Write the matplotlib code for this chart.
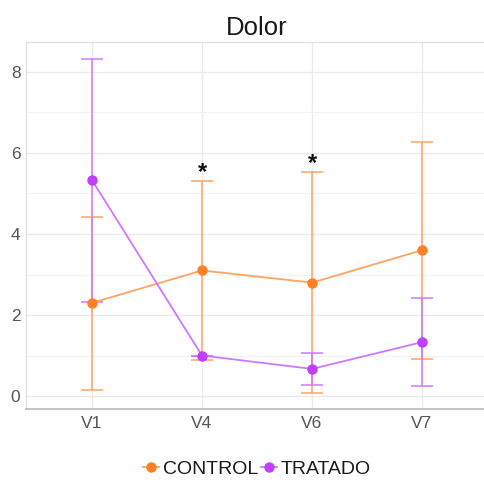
import matplotlib
matplotlib.use("Agg")
import matplotlib.pyplot as plt
from matplotlib.ticker import MultipleLocator

plt.rcParams['font.family'] = ['Liberation Sans', 'DejaVu Sans']

visits = ["V1", "V4", "V6", "V7"]

control_mean = [2.30, 3.10, 2.80, 3.60]
control_low = [0.16, 0.90, 0.08, 0.92]
control_high = [4.43, 5.30, 5.52, 6.28]

tratado_mean = [5.33, 1.00, 0.67, 1.33]
tratado_low = [2.33, 1.00, 0.27, 0.24]
tratado_high = [8.33, 1.00, 1.06, 2.42]

star_visits = ["V4", "V6"]
star_heights = [5.30, 5.52]

series = [
    ("CONTROL", control_mean, control_low, control_high, "#FF7F24", "#FFA463"),
    ("TRATADO", tratado_mean, tratado_low, tratado_high, "#BF3EFF", "#CF78FF"),
]

fig = plt.figure(figsize=(4.84, 4.82), dpi=100)
W, H = 484, 482
left, right, top, bottom = 26, 488, 42, 409
ax = fig.add_axes([left / W, (H - bottom) / H, (right - left) / W, (bottom - top) / H])

xs = list(range(len(visits)))
for name, mean, low, high, c_pt, c_ln in series:
    yerr = [[m - l for m, l in zip(mean, low)], [h - m for m, h in zip(mean, high)]]
    ax.errorbar(xs, mean, yerr=yerr, fmt="none", ecolor=c_ln, elinewidth=1.1,
                capsize=7.8, capthick=1.1, zorder=2)
    ax.plot(xs, mean, color=c_ln, lw=1.3, zorder=3)
    ax.plot(xs, mean, ls="none", marker="o", ms=6.5, color=c_pt, zorder=4)
    ax.plot([], [], color=c_ln, lw=1.3, marker="o", ms=6.5, mfc=c_pt, mec=c_pt,
            label=name)

for v, h in zip(star_visits, star_heights):
    ax.text(visits.index(v), h - 0.06, "*", ha="center", va="bottom",
            fontsize=17, fontweight="bold", color="#111111")

ax.set_xlim(-0.6, len(visits) - 0.4)
ax.set_ylim(-0.32, 8.74)
ax.set_xticks(xs)
ax.set_xticklabels(visits)
ax.yaxis.set_major_locator(MultipleLocator(2))
ax.yaxis.set_minor_locator(MultipleLocator(1))

ax.set_facecolor("white")
ax.grid(True, which="major", color="#EBEBEB", lw=1.0)
ax.grid(True, which="minor", axis="y", color="#F3F3F3", lw=0.8)
ax.set_axisbelow(True)
for s in ["top", "left", "right"]:
    ax.spines[s].set_color("#E3E3E3")
    ax.spines[s].set_linewidth(1.0)
ax.spines["bottom"].set_color("#BDBDBD")
ax.spines["bottom"].set_linewidth(1.3)

ax.tick_params(axis="both", which="both", length=0, labelsize=12.5,
               labelcolor="#555555")
ax.tick_params(axis="x", pad=5)
ax.tick_params(axis="y", pad=4)

ax.set_title("Dolor", fontsize=18.5, color="#1a1a1a", pad=5)

leg = ax.legend(loc="center", bbox_to_anchor=(0.5, -0.163), ncol=2,
                frameon=False, fontsize=14, handlelength=0.8, handletextpad=0.2,
                columnspacing=0.15)
for t in leg.get_texts():
    t.set_color("#1a1a1a")

fig.savefig("out.png", dpi=100)
